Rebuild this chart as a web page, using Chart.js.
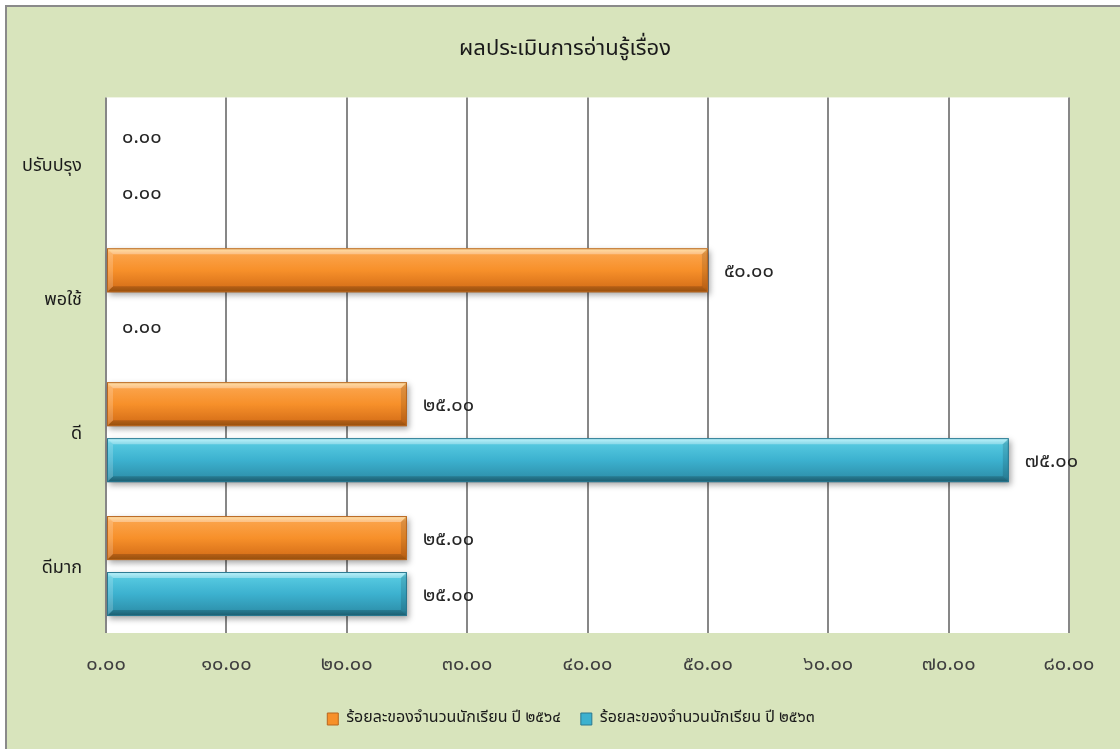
<!DOCTYPE html>
<html><head><meta charset="utf-8">
<script src="https://cdn.jsdelivr.net/npm/chart.js@4"></script>
<style>html,body{margin:0;padding:0;background:#fff;}#wrap{width:1120px;height:749px;}</style>
</head><body><div id="wrap"><canvas id="c" width="1120" height="749"></canvas></div>
<script>
const categories = ['ปรับปรุง', 'พอใช้', 'ดี', 'ดีมาก'];
const series2564 = [0, 50, 25, 25];
const series2563 = [0, 0, 75, 25];
const seriesNames = ['ร้อยละของจำนวนนักเรียน ปี ๒๕๖๔', 'ร้อยละของจำนวนนักเรียน ปี ๒๕๖๓'];
const xTicks = [0, 10, 20, 30, 40, 50, 60, 70, 80];
const chartTitle = 'ผลประเมินการอ่านรู้เรื่อง';

const FONT = '"Noto Sans Thai", "Tahoma", "Noto Sans", "DejaVu Sans", sans-serif';
const thaiDigits = s => String(s).replace(/[0-9]/g, d => '๐๑๒๓๔๕๖๗๘๙'[+d]);
const fmt = v => thaiDigits(Number(v).toFixed(2));

const palettes = [
  {top:'#ffd27a', hi:'#fba34a', mid:'#f7902a', low:'#d9721a', bot:'#b5600f', edge:'#b8661f'},
  {top:'#9ff0fb', hi:'#55c9e0', mid:'#3cb1cf', low:'#2f93ae', bot:'#226f85', edge:'#2a7890'}
];

const framePlugin = {
  id: 'frame',
  afterLayout(chart) {
    // centre title and legend like the original (which centres on the whole frame)
    if (chart.titleBlock) { chart.titleBlock.left += 27; chart.titleBlock.right += 27; }
    if (chart.legend) { chart.legend.left += 33; chart.legend.right += 33; }
  },
  beforeDraw(chart) {
    const {ctx, width, height, chartArea: a} = chart;
    ctx.save();
    ctx.fillStyle = '#ffffff';
    ctx.fillRect(0, 0, width, height);
    ctx.fillStyle = '#d8e4bc';
    ctx.fillRect(6, 6, width, height);
    ctx.strokeStyle = '#8a8a8a';
    ctx.lineWidth = 2;
    ctx.beginPath();
    ctx.moveTo(6, height + 2); ctx.lineTo(6, 6); ctx.lineTo(width + 2, 6);
    ctx.stroke();
    ctx.fillStyle = '#ffffff';
    ctx.fillRect(a.left, a.top, a.right - a.left, a.bottom - a.top);
    ctx.restore();
  }
};

const bevelPlugin = {
  id: 'bevel',
  afterDatasetDraw(chart, args) {
    const ctx = chart.ctx;
    const meta = args.meta;
    const p = palettes[args.index];
    meta.data.forEach(el => {
      const {x, y, base, height} = el.getProps(['x', 'y', 'base', 'height'], true);
      const l = Math.min(x, base), r = Math.max(x, base);
      if (r - l < 1) return;
      const t = y - height / 2, b = y + height / 2;
      ctx.save();
      ctx.shadowColor = 'rgba(0,0,0,0.35)';
      ctx.shadowBlur = 6; ctx.shadowOffsetX = 2; ctx.shadowOffsetY = 3;
      let g = ctx.createLinearGradient(0, t, 0, b);
      g.addColorStop(0, p.top); g.addColorStop(0.12, p.hi);
      g.addColorStop(0.5, p.mid); g.addColorStop(0.88, p.low); g.addColorStop(1, p.bot);
      ctx.fillStyle = g;
      ctx.fillRect(l, t, r - l, b - t);
      ctx.restore();
      ctx.save();
      const bv = 6;
      ctx.fillStyle = 'rgba(255,255,255,0.35)';
      ctx.beginPath(); ctx.moveTo(l, t); ctx.lineTo(r, t); ctx.lineTo(r - bv, t + bv); ctx.lineTo(l + bv, t + bv); ctx.closePath(); ctx.fill();
      ctx.fillStyle = 'rgba(0,0,0,0.18)';
      ctx.beginPath(); ctx.moveTo(l, b); ctx.lineTo(r, b); ctx.lineTo(r - bv, b - bv); ctx.lineTo(l + bv, b - bv); ctx.closePath(); ctx.fill();
      ctx.fillStyle = 'rgba(0,0,0,0.12)';
      ctx.beginPath(); ctx.moveTo(r, t); ctx.lineTo(r, b); ctx.lineTo(r - bv, b - bv); ctx.lineTo(r - bv, t + bv); ctx.closePath(); ctx.fill();
      ctx.fillStyle = 'rgba(255,255,255,0.18)';
      ctx.beginPath(); ctx.moveTo(l, t); ctx.lineTo(l, b); ctx.lineTo(l + bv, b - bv); ctx.lineTo(l + bv, t + bv); ctx.closePath(); ctx.fill();
      ctx.strokeStyle = p.edge; ctx.lineWidth = 1;
      ctx.strokeRect(l + 0.5, t + 0.5, r - l - 1, b - t - 1);
      ctx.restore();
    });
  }
};

const labelPlugin = {
  id: 'valueLabels',
  afterDatasetsDraw(chart) {
    const ctx = chart.ctx;
    ctx.save();
    ctx.font = '20px ' + FONT;
    ctx.fillStyle = '#262626';
    ctx.textAlign = 'left';
    ctx.textBaseline = 'middle';
    chart.data.datasets.forEach((ds, di) => {
      const meta = chart.getDatasetMeta(di);
      meta.data.forEach((el, i) => {
        const {x, y} = el.getProps(['x', 'y'], true);
        ctx.fillText(fmt(ds.data[i]), x + 16, y + 3);
      });
    });
    ctx.restore();
  }
};

new Chart(document.getElementById('c'), {
  type: 'bar',
  data: {
    labels: categories,
    datasets: [
      {label: seriesNames[0], data: series2564, backgroundColor: 'rgba(0,0,0,0)', borderWidth: 0,
       categoryPercentage: 0.836, barPercentage: 0.786},
      {label: seriesNames[1], data: series2563, backgroundColor: 'rgba(0,0,0,0)', borderWidth: 0,
       categoryPercentage: 0.836, barPercentage: 0.786}
    ]
  },
  options: {
    indexAxis: 'y',
    responsive: false,
    animation: false,
    devicePixelRatio: 1,
    layout: {padding: {top: 7, left: 7, right: 51, bottom: 12}},
    plugins: {
      title: {display: true, text: chartTitle, color: '#1a1a1a',
        font: {family: FONT, size: 22, weight: 'normal'}, padding: {top: 30, bottom: 34}},
      legend: {
        position: 'bottom',
        labels: {
          color: '#1a1a1a', font: {family: FONT, size: 16}, boxWidth: 11, boxHeight: 12, padding: 20,
          generateLabels(chart) {
            return chart.data.datasets.map((ds, i) => ({
              text: ds.label, fillStyle: palettes[i].mid, strokeStyle: palettes[i].edge,
              lineWidth: 1, hidden: false, datasetIndex: i, fontColor: '#1a1a1a'
            }));
          }
        }
      },
      tooltip: {enabled: false}
    },
    scales: {
      x: {
        min: xTicks[0], max: xTicks[xTicks.length - 1],
        afterBuildTicks(scale) { scale.ticks = xTicks.map(v => ({value: v})); },
        afterFit(scale) { scale.height = 58; },
        grid: {color: '#878787', lineWidth: 2, drawTicks: false},
        border: {display: false},
        ticks: {color: '#404040', font: {family: FONT, size: 20}, padding: 21,
          callback: v => fmt(v)}
      },
      y: {
        afterFit(scale) { scale.width = 99; },
        grid: {display: false, drawTicks: false},
        border: {display: false},
        ticks: {color: '#1a1a1a', font: {family: FONT, size: 18}, padding: 24, labelOffset: 3}
      }
    }
  },
  plugins: [framePlugin, bevelPlugin, labelPlugin]
});
</script>
</body></html>
